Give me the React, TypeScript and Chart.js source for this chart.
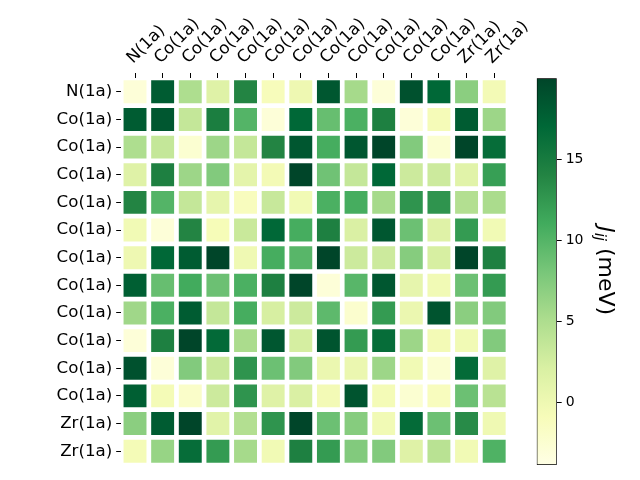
import React, { useEffect, useRef } from "react";
import { Chart, registerables } from "chart.js";

Chart.register(...registerables);

const rowLabels = [
  "N(1a)", "Co(1a)", "Co(1a)", "Co(1a)", "Co(1a)", "Co(1a)", "Co(1a)",
  "Co(1a)", "Co(1a)", "Co(1a)", "Co(1a)", "Co(1a)", "Zr(1a)", "Zr(1a)",
];
const colLabels = [...rowLabels];

const row01 = [-3, 18, 5, 1.5, 14, -1, 0, 18.5, 5.5, -3, 19, 17, 7, -0.5];
const row02 = [18, 18.5, 3.5, 14.7, 10, -3, 17, 9, 10.5, 14.5, -3, -0.7, 18, 6];
const row03 = [5, 3.5, -2.5, 6, 3.5, 14, 18.5, 10.8, 18.5, 20, 7.5, -2.5, 20, 16.5];
const row04 = [1.5, 14.5, 6, 7.5, 1, -0.5, 20, 8.5, 3.5, 17, 3, 3, 1.3, 12];
const row05 = [14, 10, 3.5, 0.8, -1.2, 3.3, -0.3, 10.5, 10.8, 5.5, 12.8, 12.8, 4.7, 5.2];
const row06 = [-0.3, -3, 14, -0.8, 3.2, 17, 10.8, 14.5, 2, 18.5, 8.7, 1.5, 12.3, -0.3];
const row07 = [0, 17, 18, 20, -0.1, 10.8, 9.8, 20, 3, 3, 7.3, 2.2, 20, 14.5];
const row08 = [17.8, 9, 11, 8.7, 10.5, 14.5, 20, -3, 9.8, 18.5, 0.8, -0.3, 8.7, 12.3];
const row09 = [5.8, 10.5, 18, 3.5, 10.8, 2.2, 3, 9.5, -2.3, 12.3, 0.3, 18.7, 7, 7.5];
const row10 = [-3, 14.5, 20, 16.8, 5.2, 18.5, 2.4, 18.7, 12.3, 16.5, 6, -0.5, -0.3, 7.5];
const row11 = [19, -3, 7.5, 3.2, 12.8, 8.7, 7.5, 0.3, 0.3, 6, -0.3, -2.5, 16.7, 1.5];
const row12 = [17.8, -0.6, -2, 3, 12.8, 1.5, 2, -0.5, 18.7, -0.6, -2.5, -1.2, 8.7, 4.3];
const row13 = [7, 18, 20, 1.3, 4.7, 12.8, 20, 8.7, 7.3, -0.3, 16.7, 8.7, 13.5, -0.1];
const row14 = [-0.6, 6.3, 16.5, 12.3, 5.5, -0.3, 14.5, 12.3, 7.5, 7.5, 1.5, 4.3, -0.3, 10.3];

const matrix = [row01, row02, row03, row04, row05, row06, row07, row08, row09, row10, row11, row12, row13, row14];

const VMIN = -3.87;
const VMAX = 20;
const cbTicks = [0, 5, 10, 15];

const YLGN = ["#ffffe5", "#f7fcb9", "#d9f0a3", "#addd8e", "#78c679", "#41ab5d", "#238443", "#006837", "#004529"];

const FONT = "'DejaVu Sans', sans-serif";

function hexToRgb(h: string) {
  const n = parseInt(h.slice(1), 16);
  return [(n >> 16) & 255, (n >> 8) & 255, n & 255];
}

function ylgn(v: number) {
  let t = (v - VMIN) / (VMAX - VMIN);
  t = Math.max(0, Math.min(1, t));
  const pos = t * (YLGN.length - 1);
  const i = Math.min(Math.floor(pos), YLGN.length - 2);
  const f = pos - i;
  const a = hexToRgb(YLGN[i]);
  const b = hexToRgb(YLGN[i + 1]);
  const c = a.map((x, k) => Math.round(x + (b[k] - x) * f));
  return `rgb(${c[0]},${c[1]},${c[2]})`;
}

const GAP = 0.085;

export default function App() {
  const mainRef = useRef<HTMLCanvasElement>(null);
  const cbRef = useRef<HTMLCanvasElement>(null);

  useEffect(() => {
    const datasets = matrix.map((row, r) => ({
      label: rowLabels[r],
      data: row.map(() => [r - 0.5 + GAP, r + 0.5 - GAP]),
      backgroundColor: row.map((v) => ylgn(v)),
      borderWidth: 0,
      grouped: false,
      barPercentage: 0.83,
      categoryPercentage: 1,
    }));

    const tickGrid = {
      display: true,
      drawOnChartArea: false,
      drawTicks: true,
      tickLength: 5,
      tickColor: "#000",
      tickWidth: 1,
      offset: false,
    };

    const main = new Chart(mainRef.current as HTMLCanvasElement, {
      type: "bar",
      data: { labels: colLabels, datasets: datasets as any },
      options: {
        responsive: false,
        animation: false,
        layout: { padding: { left: 0, right: 132, top: 0, bottom: 15 } },
        scales: {
          x: {
            type: "category",
            position: "top",
            offset: true,
            grid: tickGrid as any,
            border: { display: false },
            ticks: {
              autoSkip: false,
              minRotation: 45,
              maxRotation: 45,
              color: "#000",
              padding: 5,
              labelOffset: 9,
              font: { family: FONT, size: 16.67 },
            },
            afterFit: (s: any) => {
              s.height = 78;
            },
          },
          y: {
            type: "linear",
            min: -0.5,
            max: 13.5,
            reverse: true,
            grid: tickGrid as any,
            border: { display: false },
            afterBuildTicks: (s: any) => {
              s.ticks = rowLabels.map((_, i) => ({ value: i }));
            },
            ticks: {
              color: "#000",
              padding: 4,
              font: { family: FONT, size: 16.67 },
              callback: (v: any) => rowLabels[v as number] ?? "",
            },
            afterFit: (s: any) => {
              s.width = 121.2;
            },
          },
        },
        plugins: { legend: { display: false }, tooltip: { enabled: false } },
      },
    });

    const titlePlugin = {
      id: "cbTitle",
      afterDraw(chart: any) {
        const ctx = chart.ctx as CanvasRenderingContext2D;
        const area = chart.chartArea;
        const cy = (area.top + area.bottom) / 2 - 1;
        ctx.save();
        ctx.translate(606.5, cy);
        ctx.rotate(Math.PI / 2);
        ctx.fillStyle = "#000";
        ctx.textBaseline = "alphabetic";
        ctx.textAlign = "left";
        const big = `italic 22px ${FONT}`;
        const small = `italic 15px ${FONT}`;
        const norm = `22px ${FONT}`;
        ctx.font = big;
        const wJ = ctx.measureText("J").width;
        ctx.font = small;
        const wij = ctx.measureText("ij").width;
        ctx.font = norm;
        const wRest = ctx.measureText(" (meV)").width;
        const total = wJ + wij + wRest;
        let x = -total / 2;
        const base = 7.5;
        ctx.font = big;
        ctx.fillText("J", x, base);
        x += wJ;
        ctx.font = small;
        ctx.fillText("ij", x, base + 4);
        x += wij;
        ctx.font = norm;
        ctx.fillText(" (meV)", x, base);
        ctx.restore();
      },
    };

    const cb = new Chart(cbRef.current as HTMLCanvasElement, {
      type: "bar",
      data: {
        labels: ["J"],
        datasets: [
          {
            data: [[VMIN, VMAX]] as any,
            backgroundColor: (c: any) => {
              const chart = c.chart;
              if (!chart.chartArea) return YLGN[4];
              const y = chart.scales.y;
              const g = chart.ctx.createLinearGradient(0, y.getPixelForValue(VMIN), 0, y.getPixelForValue(VMAX));
              YLGN.forEach((col, i) => g.addColorStop(i / (YLGN.length - 1), col));
              return g;
            },
            borderColor: "#000",
            borderWidth: 1,
            borderSkipped: false,
            barPercentage: 1,
            categoryPercentage: 1,
          } as any,
        ],
      },
      options: {
        responsive: false,
        animation: false,
        layout: { padding: { left: 536.7, right: 23.3, top: 78.3, bottom: 15 } },
        scales: {
          x: { display: false, offset: true },
          y: {
            type: "linear",
            position: "right",
            min: VMIN,
            max: VMAX,
            afterBuildTicks: (s: any) => {
              s.ticks = cbTicks.map((v) => ({ value: v }));
            },
            ticks: {
              color: "#000",
              padding: 4,
              font: { family: FONT, size: 14 },
            },
            grid: { drawOnChartArea: false, drawTicks: true, tickLength: 5, tickColor: "#000" },
            border: { display: false },
            afterFit: (s: any) => {
              s.width = 60;
            },
          },
        },
        plugins: { legend: { display: false }, tooltip: { enabled: false } },
      },
      plugins: [titlePlugin],
    });

    return () => {
      main.destroy();
      cb.destroy();
    };
  }, []);

  return (
    <div style={{ position: "fixed", left: 0, top: 0, width: 640, height: 480, background: "#fff" }}>
      <canvas ref={mainRef} width={640} height={480} style={{ position: "absolute", left: 0, top: 0 }} />
      <canvas ref={cbRef} width={640} height={480} style={{ position: "absolute", left: 0, top: 0 }} />
    </div>
  );
}
